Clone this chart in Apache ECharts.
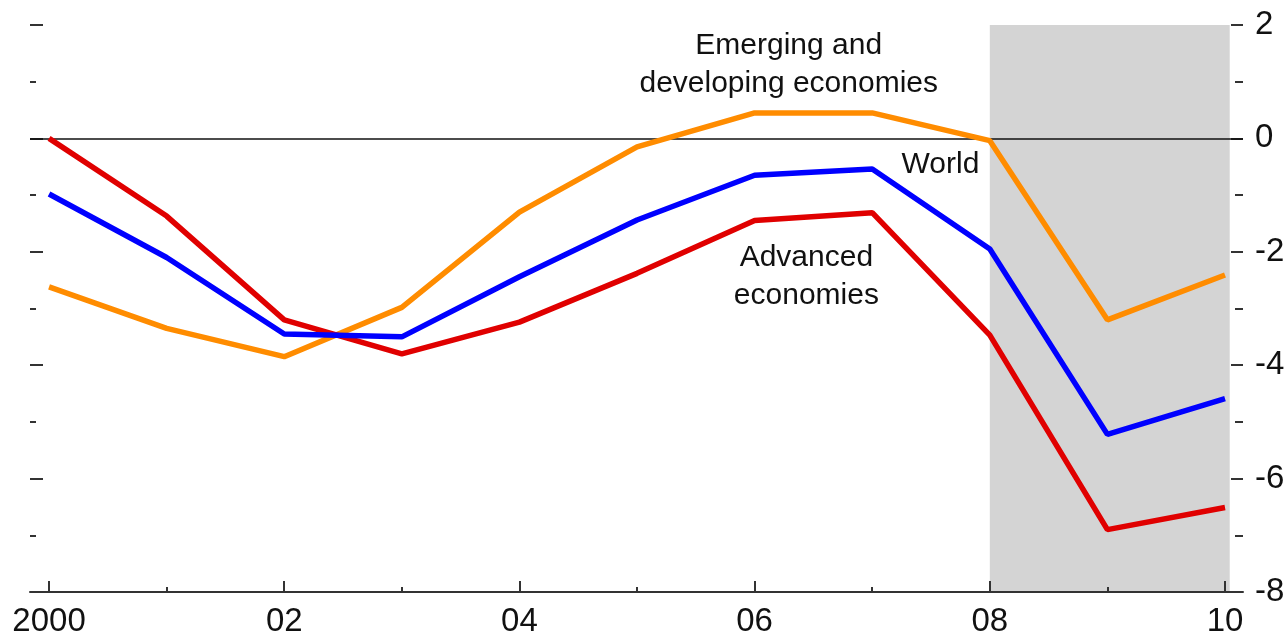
<!DOCTYPE html>
<html>
<head>
<meta charset="utf-8">
<script src="https://cdn.jsdelivr.net/npm/echarts@6/dist/echarts.min.js"></script>
<style>
  html, body { margin: 0; padding: 0; background: #fff; }
  #main { width: 1288px; height: 640px; }
</style>
</head>
<body>
<div id="main"></div>
<script>
// growth by year, percent
const years = [2000, 2001, 2002, 2003, 2004, 2005, 2006, 2007, 2008, 2009, 2010]
const advanced = [0, -1.37, -3.2, -3.8, -3.24, -2.38, -1.45, -1.31, -3.47, -6.9, -6.51]
const world = [-0.98, -2.1, -3.45, -3.5, -2.44, -1.44, -0.65, -0.54, -1.95, -5.22, -4.59]
const emerging = [-2.62, -3.35, -3.85, -2.98, -1.3, -0.15, 0.45, 0.45, -0.04, -3.2, -2.41]

const majorYears = [2000, 2002, 2004, 2006, 2008, 2010]
const minorYears = [2001, 2003, 2005, 2007, 2009]
const shadedYears = [2008, 2010.04] // projection period

const FONT = '"Liberation Sans", Arial, sans-serif'

const toPairs = (vals) => years.map((y, i) => [y, vals[i]])

const noteLabel = (text) => ({
    show: true,
    position: 'inside',
    formatter: text,
    color: '#111',
    fontFamily: FONT,
    fontSize: 30,
    lineHeight: 38,
    align: 'center',
    verticalAlign: 'middle'
})

var chartDom = document.getElementById('main')
var myChart = echarts.init(chartDom)

const option = {
    animation: false,
    backgroundColor: '#ffffff',
    grid: { left: 30, right: 45, top: 25, bottom: 48, containLabel: false },
    xAxis: [
        {
            type: 'value',
            position: 'bottom',
            min: 1999.838,
            max: 2010.153,
            z: 3,
            axisLine: { show: true, onZero: false, lineStyle: { color: '#333', width: 2 } },
            axisTick: { show: true, inside: true, length: 11, customValues: majorYears, lineStyle: { color: '#333', width: 2 } },
            axisLabel: {
                show: true,
                customValues: majorYears,
                margin: 13,
                color: '#111',
                fontFamily: FONT,
                fontSize: 33,
                formatter: (v) => v === 2000 ? '2000' : String(v).slice(2)
            },
            splitLine: { show: false }
        },
        {
            type: 'value',
            position: 'bottom',
            min: 1999.838,
            max: 2010.153,
            z: 3,
            axisLine: { show: false, onZero: false },
            axisTick: { show: true, inside: true, length: 5, customValues: minorYears, lineStyle: { color: '#333', width: 2 } },
            axisLabel: { show: false },
            splitLine: { show: false }
        }
    ],
    yAxis: [
        {
            type: 'value',
            position: 'left',
            min: -8,
            max: 2,
            interval: 2,
            axisLine: { show: false },
            axisTick: { show: true, inside: true, length: 13, lineStyle: { color: '#333', width: 2 } },
            minorTick: { show: true, splitNumber: 2, length: 6, lineStyle: { color: '#333', width: 2 } },
            axisLabel: { show: false },
            splitLine: { show: false }
        },
        {
            type: 'value',
            position: 'right',
            min: -8,
            max: 2,
            interval: 2,
            axisLine: { show: false },
            axisTick: { show: true, inside: true, length: 12, lineStyle: { color: '#333', width: 2 } },
            minorTick: { show: true, splitNumber: 2, length: 8, lineStyle: { color: '#333', width: 2 } },
            axisLabel: {
                show: true,
                margin: 12,
                color: '#111',
                fontFamily: FONT,
                fontSize: 33
            },
            splitLine: { show: false }
        }
    ],
    series: [
        {
            name: 'Emerging and developing economies',
            type: 'line',
            xAxisIndex: 0,
            yAxisIndex: 1,
            data: toPairs(emerging),
            showSymbol: false,
            symbol: 'none',
            lineStyle: { color: '#ff8c00', width: 5.5 },
            markArea: {
                silent: true,
                z: -1,
                itemStyle: { color: '#d4d4d4' },
                data: [[{ xAxis: shadedYears[0] }, { xAxis: shadedYears[1] }]]
            },
            markLine: {
                silent: true,
                symbol: 'none',
                z: 1,
                label: { show: false },
                lineStyle: { color: '#111', width: 1.6, type: 'solid' },
                data: [{ yAxis: 0 }]
            },
            markPoint: {
                symbol: 'rect',
                symbolSize: 0,
                label: noteLabel('Emerging and\ndeveloping economies'),
                data: [{ coord: [2006.29, 1.3] }]
            }
        },
        {
            name: 'Advanced economies',
            type: 'line',
            xAxisIndex: 0,
            yAxisIndex: 1,
            data: toPairs(advanced),
            showSymbol: false,
            symbol: 'none',
            lineStyle: { color: '#e00000', width: 5.5 },
            markPoint: {
                symbol: 'rect',
                symbolSize: 0,
                label: noteLabel('Advanced\neconomies'),
                data: [{ coord: [2006.44, -2.44] }]
            }
        },
        {
            name: 'World',
            type: 'line',
            xAxisIndex: 0,
            yAxisIndex: 1,
            data: toPairs(world),
            showSymbol: false,
            symbol: 'none',
            lineStyle: { color: '#0000ff', width: 5.5 },
            markPoint: {
                symbol: 'rect',
                symbolSize: 0,
                label: noteLabel('World'),
                data: [{ coord: [2007.58, -0.46] }]
            }
        }
    ]
}

myChart.setOption(option)
</script>
</body>
</html>
